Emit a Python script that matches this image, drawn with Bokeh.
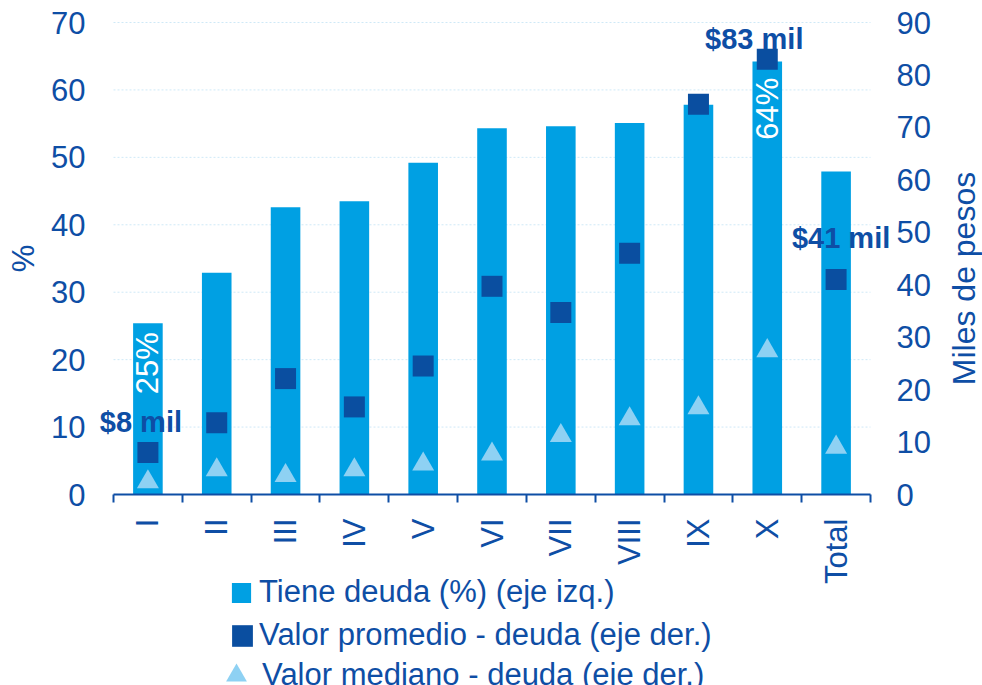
import math
from bokeh.plotting import figure
from bokeh.models import (Range1d, LinearAxis, FixedTicker, SingleIntervalTicker,
                          Legend, LegendItem, Label, ColumnDataSource)
from bokeh.core.properties import value
from bokeh.embed import file_html
from bokeh.resources import INLINE

# ---------------- data ----------------
categories = ["I", "II", "III", "IV", "V", "VI", "VII", "VIII", "IX", "X", "Total"]
tiene_deuda_pct = [25.4, 32.9, 42.6, 43.5, 49.2, 54.3, 54.6, 55.1, 57.8, 64.2, 47.9]
valor_promedio = [8.0, 13.7, 22.1, 16.7, 24.5, 39.7, 34.7, 46.0, 74.4, 83.0, 41.0]
valor_mediano = [2.4, 4.7, 3.6, 4.7, 5.8, 7.7, 11.2, 14.4, 16.5, 27.4, 9.0]

left_axis_max = 70
right_axis_max = 90
tick_step = 10

pct_label_cats = ["I", "X"]
pct_label_text = ["25%", "64%"]
mean_label_cats = ["I", "X", "Total"]
mean_label_text = ["$8 mil", "$83 mil", "$41 mil"]

series_names = ["Tiene deuda (%) (eje izq.)",
                "Valor promedio - deuda (eje der.)",
                "Valor mediano - deuda (eje der.)"]
left_title = "%"
right_title = "Miles de pesos"

# ---------------- styles / layout ----------------
FONT = "Liberation Sans"
TXT = "#0E4EA5"
BAR = "#00A0E3"
SQ = "#0A4EA0"
TRI = "#8ED1F3"
FS = "31px"

W, H = 982, 685
PX_LEFT, PX_RIGHT, PX_TOP, PX_BOTTOM = 113, 870, 22, 494

pct_label_dy = [9, 16]
mean_label_dx = [-7, -13, 5]
mean_label_dy = [-31, -20, -41]

n = len(categories)
centers = [i + 0.5 for i in range(n)]
boundaries = list(range(n + 1))

ux = (PX_RIGHT - PX_LEFT) / n
uy = (PX_BOTTOM - PX_TOP) / left_axis_max
uyr = (PX_BOTTOM - PX_TOP) / right_axis_max
x_range = Range1d(-PX_LEFT / ux, n + (W - PX_RIGHT) / ux)
y_range = Range1d(-(H - PX_BOTTOM) / uy, left_axis_max + PX_TOP / uy)
yr_range = Range1d(-(H - PX_BOTTOM) / uyr, right_axis_max + PX_TOP / uyr)

p = figure(width=W, height=H, x_range=x_range, y_range=y_range,
           output_backend="svg", toolbar_location=None, title=None,
           min_border=0, outline_line_color=None)
p.extra_y_ranges = {"right": yr_range}

src = ColumnDataSource(dict(x=centers, cat=categories, pct=tiene_deuda_pct,
                            mean=valor_promedio, med=valor_mediano))

# grid lines (limited to the category area)
grid_vals = list(range(tick_step, left_axis_max + 1, tick_step))
p.segment(x0=[0] * len(grid_vals), x1=[n] * len(grid_vals), y0=grid_vals, y1=grid_vals,
          line_color="#CFE9F7", line_dash="2 2", line_width=1)

bars = p.vbar(x="x", top="pct", width=0.43, source=src,
              fill_color=BAR, line_color=None)
squares = p.rect(x="x", y="mean", source=src, width=21, height=21,
                 width_units="screen", height_units="screen",
                 fill_color=SQ, line_color=None, y_range_name="right")
tris = p.scatter(x="x", y="med", source=src, marker="triangle", size=22,
                 fill_color=TRI, line_color=None, y_range_name="right")

# percentage labels inside bars
pidx = [categories.index(c) for c in pct_label_cats]
p.text(x=[centers[i] for i in pidx], y=[tiene_deuda_pct[i] for i in pidx],
       text=pct_label_text, angle=math.pi / 2, y_offset=pct_label_dy,
       text_align="right", text_baseline="middle",
       text_font=value(FONT), text_font_size=FS, text_color="white")

# mean value labels
midx = [categories.index(c) for c in mean_label_cats]
p.text(x=[centers[i] for i in midx], y=[valor_promedio[i] for i in midx],
       text=mean_label_text, x_offset=mean_label_dx, y_offset=mean_label_dy,
       text_align="center", text_baseline="middle", y_range_name="right",
       text_font=value(FONT), text_font_size="29px", text_font_style="bold",
       text_color=TXT)

# x axis
xa = p.xaxis[0]
xa.fixed_location = 0
xa.bounds = (0, n)
xa.ticker = FixedTicker(ticks=centers, minor_ticks=boundaries)
xa.major_label_overrides = {c: lab for c, lab in zip(centers, categories)}
xa.major_label_orientation = math.pi / 2
xa.major_tick_out = 0
xa.major_tick_in = 0
xa.major_tick_line_color = None
xa.minor_tick_out = 8
xa.minor_tick_in = 0
xa.minor_tick_line_color = TXT
xa.minor_tick_line_width = 2
xa.axis_line_color = TXT
xa.axis_line_width = 2
xa.major_label_standoff = 16
xa.major_label_text_font = FONT
xa.major_label_text_font_size = FS
xa.major_label_text_color = TXT

# left axis
ya = p.yaxis[0]
ya.fixed_location = 0
ya.bounds = (0, left_axis_max)
ya.ticker = SingleIntervalTicker(interval=tick_step, num_minor_ticks=0)
ya.axis_line_color = None
ya.major_tick_line_color = None
ya.minor_tick_line_color = None
ya.major_tick_out = 0
ya.major_label_standoff = 28
ya.major_label_text_font = FONT
ya.major_label_text_font_size = FS
ya.major_label_text_color = TXT
ya.axis_label = left_title
ya.axis_label_text_font = FONT
ya.axis_label_text_font_size = FS
ya.axis_label_text_font_style = "normal"
ya.axis_label_text_color = TXT
ya.axis_label_standoff = 7

# right axis
ra = LinearAxis(y_range_name="right", fixed_location=n, bounds=(0, right_axis_max),
                ticker=SingleIntervalTicker(interval=tick_step, num_minor_ticks=0))
ra.axis_line_color = None
ra.major_tick_line_color = None
ra.minor_tick_line_color = None
ra.major_tick_out = 0
ra.major_label_standoff = 26
ra.major_label_text_font = FONT
ra.major_label_text_font_size = FS
ra.major_label_text_color = TXT
p.add_layout(ra, "right")

p.add_layout(Label(x=963, y=H - 278, x_units="screen", y_units="screen",
                   text=right_title, angle=math.pi / 2,
                   text_align="center", text_baseline="middle",
                   text_font=FONT, text_font_size="32px", text_color=TXT))

p.xgrid.visible = False
p.ygrid.visible = False

# legends (one per row so each glyph can be sized like the reference)
def make_legend(label, rend, loc, gw, gh, standoff):
    return Legend(items=[LegendItem(label=label, renderers=[rend])],
                  location=loc, orientation="vertical",
                  glyph_width=gw, glyph_height=gh, label_standoff=standoff,
                  label_text_font=FONT, label_text_font_size=FS,
                  label_text_color=TXT, padding=0, margin=0, spacing=0,
                  border_line_color=None, background_fill_alpha=0)

p.add_layout(make_legend(series_names[0], bars, (229, 75), 24, 25, 6), "center")
p.add_layout(make_legend(series_names[1], squares, (229, 32), 26, 27, 4), "center")
p.add_layout(make_legend(series_names[2], tris, (210, -16), 52, 52, 0), "center")

open("out.html", "w").write(file_html(p, INLINE))
